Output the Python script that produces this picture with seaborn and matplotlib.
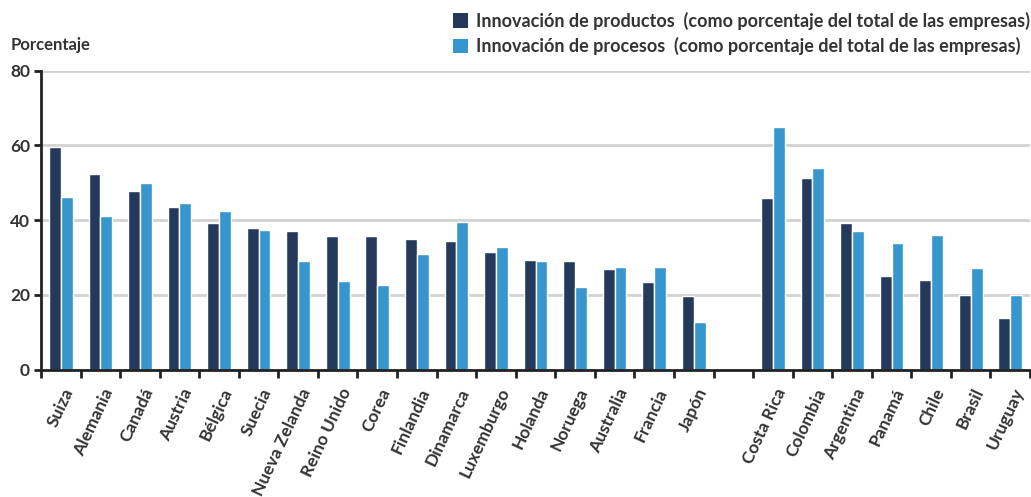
import pandas as pd
import seaborn as sns
import matplotlib.pyplot as plt
import matplotlib.transforms as mtransforms
from matplotlib.patches import Patch
import numpy as np

# Data
paises = ['Suiza', 'Alemania', 'Canadá', 'Austria', 'Bélgica', 'Suecia', 'Nueva Zelanda',
          'Reino Unido', 'Corea', 'Finlandia', 'Dinamarca', 'Luxemburgo', 'Holanda',
          'Noruega', 'Australia', 'Francia', 'Japón',
          'Costa Rica', 'Colombia', 'Argentina', 'Panamá', 'Chile', 'Brasil', 'Uruguay']
productos = [59.6, 52.3, 47.8, 43.5, 39.2, 37.9, 37.1, 35.7, 35.7, 34.9, 34.4, 31.4, 29.3,
             29.0, 26.9, 23.4, 19.6,
             45.9, 51.3, 39.2, 25.0, 23.9, 19.9, 13.8]
procesos = [46.2, 41.1, 49.9, 44.6, 42.4, 37.3, 29.0, 23.7, 22.6, 30.9, 39.5, 32.8, 29.0,
            22.1, 27.4, 27.4, 12.7,
            64.9, 53.9, 37.1, 33.8, 36.0, 27.1, 19.9]
series = ['Innovación de productos  (como porcentaje del total de las empresas)',
          'Innovación de procesos  (como porcentaje del total de las empresas)']
colores = ['#253a5b', '#3696cd']

# empty slot between OECD and Latin America
orden = paises[:17] + [' '] + paises[17:]

df = pd.concat([
    pd.DataFrame({'pais': paises, 'serie': series[0], 'valor': productos}),
    pd.DataFrame({'pais': paises, 'serie': series[1], 'valor': procesos}),
])

sns.set_theme(style='white')
plt.rcParams['font.family'] = ['Lato', 'DejaVu Sans']
plt.rcParams['font.weight'] = 'bold'
texto = '#333333'

fig = plt.figure(figsize=(10.31, 4.97), dpi=100)
ax = fig.add_axes([0.0398, 0.2565, 0.9592, 0.6012])

sns.barplot(data=df, x='pais', y='valor', hue='serie', order=orden, hue_order=series,
            palette=colores, width=0.6, gap=0, saturation=1, ax=ax, legend=False)

ax.set_xlim(-0.5, len(orden) - 0.5)
ax.set_ylim(0, 80)
ax.set_yticks([0, 20, 40, 60, 80])
ax.yaxis.grid(True, color='#d2d2d2', lw=2)
ax.set_axisbelow(True)
ax.set_xlabel('')
ax.set_ylabel('')

for s in ['top', 'right']:
    ax.spines[s].set_visible(False)
for s in ['left', 'bottom']:
    ax.spines[s].set_color('#222222')
    ax.spines[s].set_linewidth(2)

# ticks at the boundaries, labels at the centres
ax.set_xticks(np.arange(-0.5, len(orden), 1))
ax.set_xticklabels([])
ax.set_xticks(np.arange(len(orden)), minor=True)
ax.set_xticklabels(orden, minor=True, rotation=65, ha='right', va='center',
                   rotation_mode='anchor', fontsize=12.5, fontweight='bold', color=texto)
ax.tick_params(axis='x', which='major', bottom=True, direction='out', length=6, width=2,
               color='#222222')
ax.tick_params(axis='x', which='minor', bottom=True, length=0, pad=14)
ax.tick_params(axis='y', left=True, direction='out', length=5, width=2, color='#222222',
               labelsize=12.5, labelcolor=texto, pad=3)
for lab in ax.get_yticklabels():
    lab.set_fontweight('bold')

desplaza = mtransforms.ScaledTranslation(9 / 100, 0, fig.dpi_scale_trans)
for lab in ax.get_xticklabels(minor=True):
    lab.set_transform(lab.get_transform() + desplaza)

fig.text(0.01, 0.91, 'Porcentaje', fontsize=12, fontweight='bold', color=texto,
         ha='left', va='center')

handles = [Patch(facecolor=c, edgecolor='none') for c in colores]
fig.legend(handles, series, loc='upper right', bbox_to_anchor=(1.01, 1.0), frameon=False,
           ncol=1, handlelength=0.85, handleheight=0.85, handletextpad=0.4,
           labelspacing=0.4, borderaxespad=0.25, labelcolor=texto,
           prop={'weight': 'bold', 'size': 13})

fig.savefig('out.png', dpi=100)
